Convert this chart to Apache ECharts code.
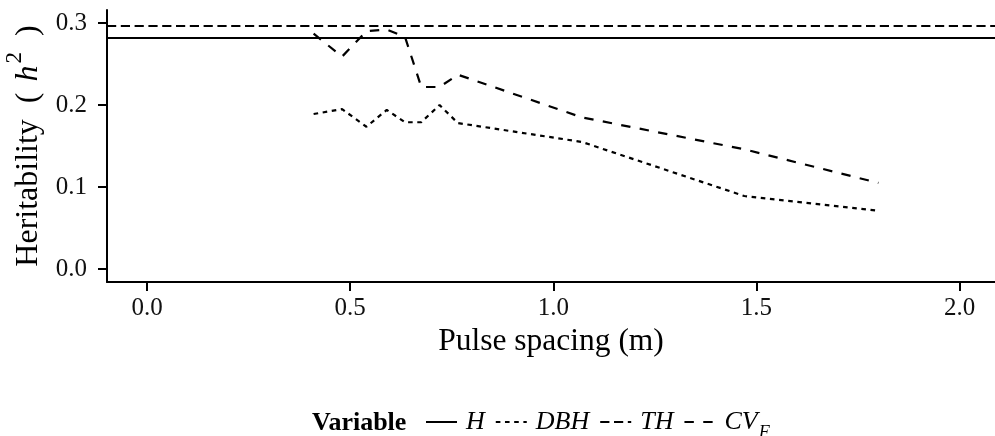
<!DOCTYPE html>
<html>
<head>
<meta charset="utf-8">
<script src="https://cdn.jsdelivr.net/npm/echarts@6/dist/echarts.min.js"></script>
<style>
  html, body { margin: 0; padding: 0; background: #fff; }
  #chart { width: 995px; height: 436px; }
</style>
</head>
<body>
<div id="chart"></div>
<script>
// Pulse spacing (m) at which heritability was estimated
const spacing = [0.41, 0.48, 0.54, 0.59, 0.635, 0.675, 0.72, 0.765, 1.07, 1.47, 1.80];
// Heritability per variable
const dbh = [0.189, 0.195, 0.1735, 0.194, 0.179, 0.179, 0.200, 0.178, 0.155, 0.089, 0.071];
const cvF = [0.287, 0.259, 0.290, 0.292, 0.283, 0.222, 0.222, 0.237, 0.185, 0.146, 0.105];
// Constant heritability (independent of pulse spacing)
const hValue = 0.282;
const thValue = 0.2963;
// Axis ticks
const xTicks = [0.0, 0.5, 1.0, 1.5, 2.0];
const yTicks = [0.0, 0.1, 0.2, 0.3];

const FONT = '"Liberation Serif", "DejaVu Serif", serif';
const INK = '#000';
const LW = 2.2;

const dashShort = [4.6, 4.6];   // "22"
const dashMid = [9.2, 4.6];     // "42"
const dashLong = [9.4, 9.4];    // "44"

const pairs = ys => spacing.map((x, i) => [x, ys[i]]);

const chart = echarts.init(document.getElementById('chart'), null, { renderer: 'canvas' });

const axisCommon = {
  axisLine: { show: true, onZero: false, lineStyle: { color: INK, width: 2 } },
  axisTick: { show: true, inside: false, length: 9, lineStyle: { color: INK, width: 2 } },
  splitLine: { show: false },
  axisLabel: { color: '#111', fontFamily: FONT, fontSize: 25, formatter: v => v.toFixed(1) }
};

// Horizontal reference line across the whole panel
const hLine = (value, type) => ({
  silent: true,
  symbol: 'none',
  precision: 4,
  label: { show: false },
  lineStyle: { color: INK, width: LW, type: type },
  data: [{ yAxis: value }]
});

const option = {
  animation: false,
  backgroundColor: '#fff',
  grid: { left: 107, right: 0, top: 10, bottom: 154, containLabel: false, outerBoundsMode: 'none' },
  title: {
    text: 'Variable',
    left: 312,
    top: 410,
    padding: 0,
    textStyle: { fontFamily: FONT, fontSize: 26, fontWeight: 'bold', color: INK }
  },
  legend: {
    left: 425,
    top: 409,
    padding: 0,
    itemWidth: 31,
    itemHeight: 14,
    itemGap: 10,
    data: ['H', 'DBH', 'TH', 'CV_F'],
    itemStyle: { color: 'rgba(0,0,0,0)', borderWidth: 0 },
    formatter: name => name === 'CV_F' ? '{i|CV}{sub|F}' : '{i|' + name + '}',
    textStyle: {
      color: INK,
      fontFamily: FONT,
      fontSize: 26,
      padding: [0, 0, 0, 4],
      rich: {
        i: { fontFamily: FONT, fontSize: 26, fontStyle: 'italic', color: INK, lineHeight: 40, verticalAlign: 'middle' },
        sub: { fontFamily: FONT, fontSize: 18, fontStyle: 'italic', color: INK, lineHeight: 27, verticalAlign: 'bottom', padding: [0, 0, 0, 1] }
      }
    }
  },
  xAxis: Object.assign({}, axisCommon, {
    type: 'value',
    min: -0.0985,
    max: 2.087,
    name: 'Pulse spacing (m)',
    nameLocation: 'middle',
    nameGap: 44,
    nameTextStyle: { fontFamily: FONT, fontSize: 31.5, color: INK },
    axisTick: Object.assign({}, axisCommon.axisTick, { customValues: xTicks }),
    axisLabel: Object.assign({}, axisCommon.axisLabel, { customValues: xTicks, margin: 14 })
  }),
  yAxis: Object.assign({}, axisCommon, {
    type: 'value',
    min: -0.0159,
    max: 0.3159,
    name: '{n|Heritability  ( }{i|h}{sup|2}{n|  )}',
    nameLocation: 'middle',
    nameGap: 47,
    nameTextStyle: {
      fontFamily: FONT, fontSize: 32, color: INK,
      rich: {
        n: { fontFamily: FONT, fontSize: 32, color: INK, lineHeight: 50, verticalAlign: 'middle' },
        i: { fontFamily: FONT, fontSize: 32, fontStyle: 'italic', color: INK, lineHeight: 50, verticalAlign: 'middle', padding: [0, 0, 0, 3] },
        sup: { fontFamily: FONT, fontSize: 23, color: INK, lineHeight: 26, verticalAlign: 'top', padding: [0, 0, 0, 2] }
      }
    },
    axisTick: Object.assign({}, axisCommon.axisTick, { customValues: yTicks }),
    axisLabel: Object.assign({}, axisCommon.axisLabel, { customValues: yTicks, margin: 20 })
  }),
  series: [
    {
      name: 'H',
      type: 'line',
      data: [],
      symbol: 'none',
      lineStyle: { color: INK, width: LW, type: 'solid' },
      itemStyle: { color: INK },
      markLine: hLine(hValue, 'solid')
    },
    {
      name: 'DBH',
      type: 'line',
      data: pairs(dbh),
      symbol: 'none',
      lineStyle: { color: INK, width: LW, type: dashShort, cap: 'butt' },
      itemStyle: { color: INK }
    },
    {
      name: 'TH',
      type: 'line',
      data: [],
      symbol: 'none',
      lineStyle: { color: INK, width: LW, type: dashMid },
      itemStyle: { color: INK },
      markLine: hLine(thValue, dashMid)
    },
    {
      name: 'CV_F',
      type: 'line',
      data: pairs(cvF),
      symbol: 'none',
      lineStyle: { color: INK, width: LW, type: dashLong, cap: 'butt' },
      itemStyle: { color: INK }
    }
  ]
};

chart.setOption(option);
</script>
</body>
</html>
